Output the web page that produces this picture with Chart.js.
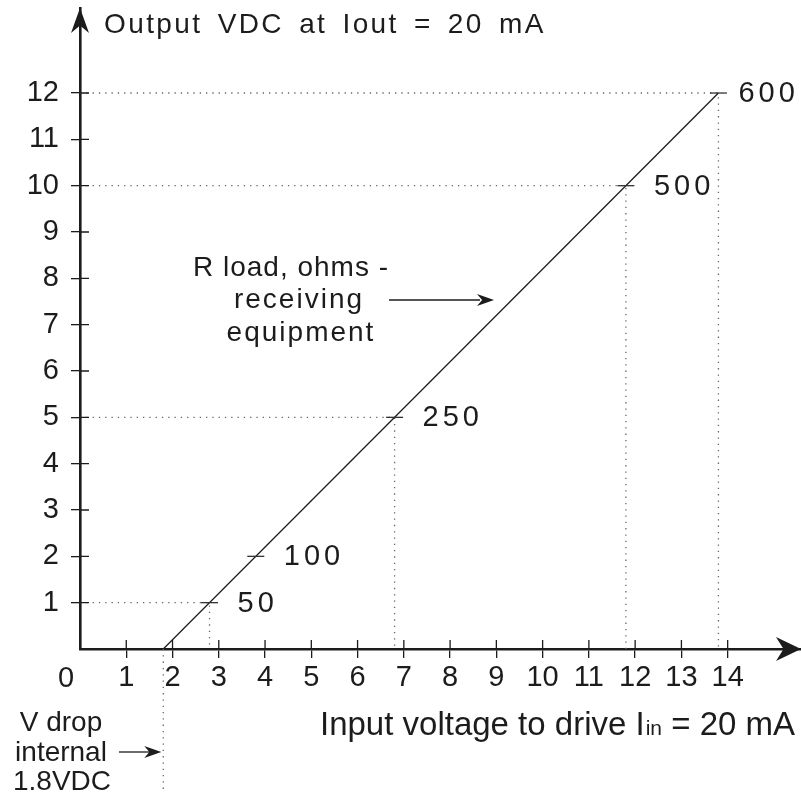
<!DOCTYPE html>
<html><head><meta charset="utf-8">
<script src="https://cdn.jsdelivr.net/npm/chart.js@4.4.1/dist/chart.umd.min.js"></script>
<style>html,body{margin:0;padding:0;background:#fff}canvas{display:block}</style>
</head><body>
<canvas id="c" width="801" height="796"></canvas>
<script>
// ---- data ----
const lineX = [1.8, 13.8];          // operating line (input V)
const lineY = [0, 12];              // operating line (output V)
const loadX = [2.8, 3.8, 6.8, 11.8, 13.8];
const loadY = [1, 2, 5, 10, 12];
const loadLabels = ['50', '100', '250', '500', '600'];
const guided = [true, false, true, true, true];
const xTicks = [1,2,3,4,5,6,7,8,9,10,11,12,13,14];
const yTicks = [1,2,3,4,5,6,7,8,9,10,11,12];
const vDrop = 1.8;
const XMAX = 15.585, YMAX = 13.835;

const FONT = "'Liberation Sans', Arial, sans-serif";
const INK = '#1c1c1c';

const datasets = [];
datasets.push({
  label: 'R load', data: lineX.map((x, i) => ({x, y: lineY[i]})),
  showLine: true, borderColor: INK, borderWidth: 1.3, pointRadius: 0, order: 1
});
datasets.push({
  label: 'loads', data: loadX.map((x, i) => ({x, y: loadY[i]})),
  showLine: false, pointStyle: 'line', pointRadius: 8.5, pointBorderWidth: 1.3,
  pointBorderColor: '#333', pointBackgroundColor: '#333', order: 0
});
loadX.forEach((x, i) => {
  if (!guided[i]) return;
  datasets.push({
    label: 'guide' + i, data: [{x: 0, y: loadY[i]}, {x, y: loadY[i]}, {x, y: 0}],
    showLine: true, borderColor: '#666', borderWidth: 1.3, borderDash: [1.3, 5],
    pointRadius: 0, order: 2
  });
});

function arrowHead(ctx, tx, ty, dir, len, half) {
  ctx.beginPath();
  if (dir === 'right') {
    ctx.moveTo(tx, ty);
    ctx.lineTo(tx - len, ty - half);
    ctx.lineTo(tx - len * 0.7, ty);
    ctx.lineTo(tx - len, ty + half);
  } else {
    ctx.moveTo(tx, ty);
    ctx.lineTo(tx - half, ty + len);
    ctx.lineTo(tx, ty + len * 0.7);
    ctx.lineTo(tx + half, ty + len);
  }
  ctx.closePath();
  ctx.fill();
}

function spaced(ctx, ls) {
  if ('letterSpacing' in ctx) ctx.letterSpacing = ls;
}

const overlay = {
  id: 'overlay',
  afterDraw(chart) {
    const ctx = chart.ctx, xs = chart.scales.x, ys = chart.scales.y;
    const x0 = xs.getPixelForValue(0), y0 = ys.getPixelForValue(0);
    ctx.save();
    ctx.strokeStyle = INK; ctx.fillStyle = INK;
    // inner halves of tick marks
    ctx.lineWidth = 1.3;
    ctx.beginPath();
    xTicks.forEach(v => { const p = xs.getPixelForValue(v); ctx.moveTo(p, y0); ctx.lineTo(p, y0 - 9); });
    yTicks.forEach(v => { const p = ys.getPixelForValue(v); ctx.moveTo(x0, p); ctx.lineTo(x0 + 9, p); });
    ctx.stroke();
    // axis arrowheads
    arrowHead(ctx, chart.chartArea.right, y0, 'right', 25, 12);
    arrowHead(ctx, x0, chart.chartArea.top, 'up', 25, 9);

    // V drop dotted guide below axis
    const vx = xs.getPixelForValue(vDrop);
    ctx.save();
    ctx.strokeStyle = '#666'; ctx.lineWidth = 1.3; ctx.setLineDash([1.3, 5]);
    ctx.beginPath(); ctx.moveTo(vx, y0); ctx.lineTo(vx, 792); ctx.stroke();
    ctx.restore();

    // load labels
    ctx.font = `29px ${FONT}`; ctx.textBaseline = 'middle'; ctx.textAlign = 'left';
    spaced(ctx, '4px');
    loadX.forEach((x, i) => {
      const px = xs.getPixelForValue(x), py = ys.getPixelForValue(loadY[i]);
      const dx = i === loadX.length - 1 ? 20 : 28;
      ctx.fillText(loadLabels[i], px + dx, py + 1);
    });
    spaced(ctx, '0px');

    // origin label
    ctx.textAlign = 'center';
    ctx.fillText('0', x0 - 14, 679);

    // title
    ctx.font = `28px ${FONT}`; ctx.textAlign = 'left'; ctx.textBaseline = 'alphabetic';
    spaced(ctx, '2.4px');
    if ('wordSpacing' in ctx) ctx.wordSpacing = '5px';
    ctx.fillText('Output VDC at Iout = 20 mA', 104, 33);
    spaced(ctx, '0px');
    if ('wordSpacing' in ctx) ctx.wordSpacing = '0px';

    // x axis title with subscript
    const big = `33px ${FONT}`, small = `21px ${FONT}`;
    const p1 = 'Input voltage to drive I', p2 = 'in', p3 = ' = 20 mA';
    ctx.font = big; const w1 = ctx.measureText(p1).width, w3 = ctx.measureText(p3).width;
    ctx.font = small; const w2 = ctx.measureText(p2).width;
    let tx = 795 - (w1 + w2 + w3 + 1);
    const by = 735;
    ctx.font = big; ctx.fillText(p1, tx, by); tx += w1;
    ctx.font = small; ctx.fillText(p2, tx + 1, by); tx += w2 + 1;
    ctx.font = big; ctx.fillText(p3, tx, by);

    // R load annotation
    ctx.font = `28px ${FONT}`; ctx.textAlign = 'center'; ctx.textBaseline = 'middle';
    spaced(ctx, '1px');
    ctx.fillText('R load, ohms -', 291, 268);
    spaced(ctx, '2px');
    ctx.fillText('receiving', 299, 300);
    ctx.fillText('equipment', 301, 333);
    spaced(ctx, '0px');
    ctx.lineWidth = 1.3;
    ctx.beginPath(); ctx.moveTo(389, 300); ctx.lineTo(480, 300); ctx.stroke();
    arrowHead(ctx, 494, 300, 'right', 17, 6);

    // V drop annotation
    ctx.fillText('V drop', 61, 723);
    ctx.fillText('internal', 61, 753);
    ctx.fillText('1.8VDC', 62, 782);
    ctx.beginPath(); ctx.moveTo(119, 752); ctx.lineTo(150, 752); ctx.stroke();
    arrowHead(ctx, vx - 2, 752, 'right', 17, 6);
    ctx.restore();
  }
};

function noPad(s) { s.paddingTop = 0; s.paddingBottom = 0; s.paddingLeft = 0; s.paddingRight = 0; }

new Chart(document.getElementById('c'), {
  type: 'scatter',
  data: { datasets },
  options: {
    responsive: false, animation: false, events: [],
    devicePixelRatio: 1,
    layout: { autoPadding: false, padding: { top: 8, right: 0, bottom: 0, left: 0 } },
    plugins: { legend: { display: false }, tooltip: { enabled: false }, title: { display: false } },
    scales: {
      x: {
        type: 'linear', min: 0, max: XMAX,
        afterFit(s) { s.height = 147; noPad(s); },
        afterBuildTicks(s) { s.ticks = xTicks.map(v => ({ value: v })); },
        grid: { drawOnChartArea: false, drawTicks: true, tickLength: 9, color: INK, lineWidth: 1.3 },
        border: { display: true, color: INK, width: 2.6 },
        ticks: { font: { family: FONT, size: 29 }, color: INK, padding: 3, maxRotation: 0, autoSkip: false }
      },
      y: {
        type: 'linear', min: 0, max: YMAX,
        afterFit(s) { s.width = 80; noPad(s); },
        afterBuildTicks(s) { s.ticks = yTicks.map(v => ({ value: v })); },
        grid: { drawOnChartArea: false, drawTicks: true, tickLength: 9, color: INK, lineWidth: 1.3 },
        border: { display: true, color: INK, width: 2.6 },
        ticks: { font: { family: FONT, size: 29 }, color: INK, padding: 12, autoSkip: false }
      }
    }
  },
  plugins: [overlay]
});
</script>
</body></html>
